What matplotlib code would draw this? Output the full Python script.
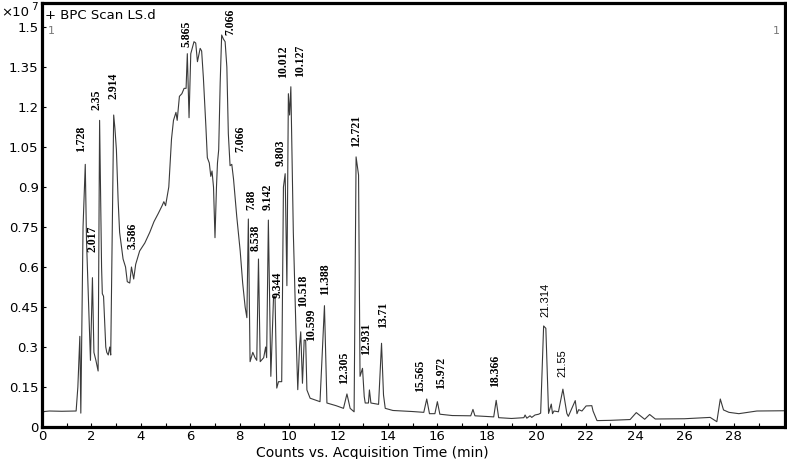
import numpy as np
import matplotlib
matplotlib.use("Agg")
import matplotlib.pyplot as plt

# retention time (min) and BPC counts (x1e7)
time_min = [0.0, 0.08, 0.3, 0.8, 1.38, 1.45, 1.53, 1.57, 1.66, 1.75, 1.80, 1.96, 2.04, 2.10, 2.18,
            2.27, 2.33, 2.41, 2.44, 2.49, 2.58, 2.62, 2.68, 2.74, 2.78, 2.90, 2.95, 3.01, 3.08,
            3.14, 3.28, 3.38, 3.45, 3.55, 3.62, 3.71, 3.79, 3.95, 4.16, 4.36, 4.53, 4.70, 4.86,
            4.93, 5.00, 5.13, 5.24, 5.32, 5.42, 5.47, 5.56, 5.66, 5.75, 5.83, 5.88, 5.95, 6.02,
            6.15, 6.22, 6.29, 6.40, 6.46, 6.53, 6.63, 6.69, 6.77, 6.83, 6.88, 6.94, 7.00, 7.06,
            7.10, 7.15, 7.21, 7.27, 7.34, 7.41, 7.48, 7.54, 7.61, 7.68, 7.75, 7.88, 8.02, 8.12,
            8.22, 8.29, 8.35, 8.42, 8.53, 8.62, 8.69, 8.76, 8.83, 8.97, 9.05, 9.09, 9.16, 9.26,
            9.37, 9.43, 9.50, 9.57, 9.70, 9.77, 9.84, 9.91, 9.97, 10.02, 10.07, 10.17, 10.28,
            10.35, 10.42, 10.47, 10.54, 10.61, 10.67, 10.72, 10.85, 11.25, 11.43, 11.53, 11.9,
            12.20, 12.34, 12.47, 12.63, 12.71, 12.81, 12.87, 12.97, 13.04, 13.08, 13.21, 13.25,
            13.31, 13.62, 13.74, 13.82, 13.89, 14.2, 15.0, 15.45, 15.57, 15.68, 15.9, 16.0,
            16.1, 16.6, 17.35, 17.44, 17.52, 18.28, 18.38, 18.48, 19.0, 19.5, 19.55, 19.62,
            19.75, 19.82, 19.95, 20.1, 20.18, 20.30, 20.39, 20.50, 20.61, 20.66, 20.72, 20.90,
            21.08, 21.24, 21.30, 21.58, 21.65, 21.72, 21.85, 22.02, 22.25, 22.30, 22.46, 23.0,
            23.8, 24.05, 24.39, 24.59, 24.82, 26.0, 27.04, 27.31, 27.45, 27.58, 27.8, 28.2,
            28.93, 30.07]
counts = [0.045, 0.058, 0.060, 0.059, 0.060, 0.15, 0.34, 0.052, 0.75, 0.985, 0.70, 0.25, 0.56, 0.28,
          0.25, 0.21, 1.15, 0.60, 0.50, 0.49, 0.30, 0.28, 0.27, 0.30, 0.27, 1.17, 1.12, 1.04, 0.85,
          0.73, 0.63, 0.60, 0.545, 0.54, 0.60, 0.555, 0.61, 0.66, 0.69, 0.73, 0.77, 0.80, 0.83,
          0.845, 0.83, 0.90, 1.08, 1.15, 1.18, 1.15, 1.24, 1.25, 1.27, 1.27, 1.40, 1.16, 1.40,
          1.445, 1.44, 1.37, 1.42, 1.41, 1.31, 1.13, 1.01, 0.99, 0.94, 0.96, 0.90, 0.71, 0.90,
          0.99, 1.04, 1.29, 1.47, 1.455, 1.445, 1.35, 1.10, 0.98, 0.985, 0.93, 0.79, 0.66, 0.54,
          0.45, 0.41, 0.78, 0.245, 0.28, 0.26, 0.25, 0.63, 0.245, 0.26, 0.30, 0.26, 0.776, 0.19,
          0.49, 0.49, 0.146, 0.17, 0.17, 0.90, 0.95, 0.53, 1.25, 1.17, 1.276, 0.73, 0.35,
          0.14, 0.30, 0.357, 0.164, 0.326, 0.325, 0.139, 0.108, 0.095, 0.455, 0.09, 0.08,
          0.07, 0.124, 0.07, 0.057, 1.013, 0.945, 0.19, 0.22, 0.114, 0.09, 0.09, 0.139,
          0.09, 0.085, 0.314, 0.12, 0.07, 0.062, 0.058, 0.055, 0.105, 0.05, 0.05, 0.095,
          0.048, 0.043, 0.042, 0.066, 0.042, 0.038, 0.10, 0.035, 0.032, 0.035, 0.045, 0.033,
          0.042, 0.036, 0.045, 0.048, 0.052, 0.379, 0.37, 0.051, 0.086, 0.05, 0.06, 0.057,
          0.142, 0.051, 0.04, 0.099, 0.05, 0.065, 0.06, 0.079, 0.08, 0.06, 0.024, 0.025,
          0.028, 0.054, 0.029, 0.047, 0.030, 0.031, 0.036, 0.02, 0.105, 0.064, 0.055, 0.050,
          0.060, 0.061]

peak_labels = ["1.728", "2.017", "2.35", "2.914", "3.586", "5.865", "7.066", "7.066", "7.88",
               "8.538", "9.142", "9.344", "9.803", "10.012", "10.127", "10.518", "10.599",
               "11.388", "12.305", "12.721", "12.931", "13.71", "15.565", "15.972", "18.366",
               "21.314", "21.55"]
label_x = [1.57, 2.06, 2.20, 2.90, 3.68, 5.86, 7.61, 8.01, 8.46, 8.66, 9.15, 9.54, 9.67, 9.77,
           10.46, 10.55, 10.89, 11.45, 12.23, 12.71, 13.11, 13.79, 15.30, 16.14, 18.33, 20.36,
           21.07]
label_y = [1.032, 0.657, 1.189, 1.229, 0.666, 1.426, 1.47, 1.032, 0.814, 0.66, 0.812, 0.484,
           0.979, 1.310, 1.312, 0.451, 0.324, 0.495, 0.161, 1.049, 0.270, 0.370, 0.132, 0.141,
           0.151, 0.414, 0.189]

fig = plt.figure(figsize=(7.87, 4.59), dpi=100)
ax = fig.add_axes([0.0534, 0.0697, 0.9441, 0.9237])
ax.plot(time_min, counts, color="#3a3a3a", lw=0.8)
ax.set_xlim(0, 30.07)
ax.set_ylim(0, 1.59)

ax.set_xticks(np.arange(0, 30, 2))
ax.set_xticks(np.arange(1, 30, 2), minor=True)
ax.set_xticklabels([str(v) for v in range(0, 30, 2)])
yt = [0, 0.15, 0.3, 0.45, 0.6, 0.75, 0.9, 1.05, 1.2, 1.35, 1.5]
ax.set_yticks(yt)
ax.set_yticklabels(["0", "0.15", "0.3", "0.45", "0.6", "0.75", "0.9", "1.05", "1.2", "1.35", "1.5"])
ax.tick_params(which="both", direction="in", length=3, width=0.8, labelsize=9.5, pad=2.5)
for lab in ax.get_xticklabels() + ax.get_yticklabels():
    lab.set_family("DejaVu Sans")
for s in ax.spines.values():
    s.set_linewidth(2.3)

for txt, lx, ly in zip(peak_labels, label_x, label_y):
    if txt in ("21.314", "21.55"):
        ax.text(lx, ly, txt, rotation=90, ha="center", va="bottom", fontsize=8,
                family="Liberation Sans")
    else:
        ax.text(lx, ly, txt, rotation=90, ha="center", va="bottom", fontsize=8.5,
                family="Liberation Serif", fontweight="bold")

ax.text(0.004, 0.985, "+ BPC Scan LS.d", transform=ax.transAxes, fontsize=9.5,
        family="DejaVu Sans", va="top")
ax.text(0.008, 0.945, "1", transform=ax.transAxes, fontsize=8, color="#777777",
        family="DejaVu Sans", va="top")
ax.text(0.993, 0.945, "1", transform=ax.transAxes, fontsize=8, color="#777777",
        family="DejaVu Sans", va="top", ha="right")
fig.text(0.002, 0.965, "×10", fontsize=9.5, family="DejaVu Sans")
fig.text(0.040, 0.978, "7", fontsize=7.5, family="DejaVu Sans")
fig.text(372 / 787, 0.012, "Counts vs. Acquisition Time (min)", ha="center", va="center",
         fontsize=10, family="DejaVu Sans")

fig.savefig("out.png", dpi=100)
